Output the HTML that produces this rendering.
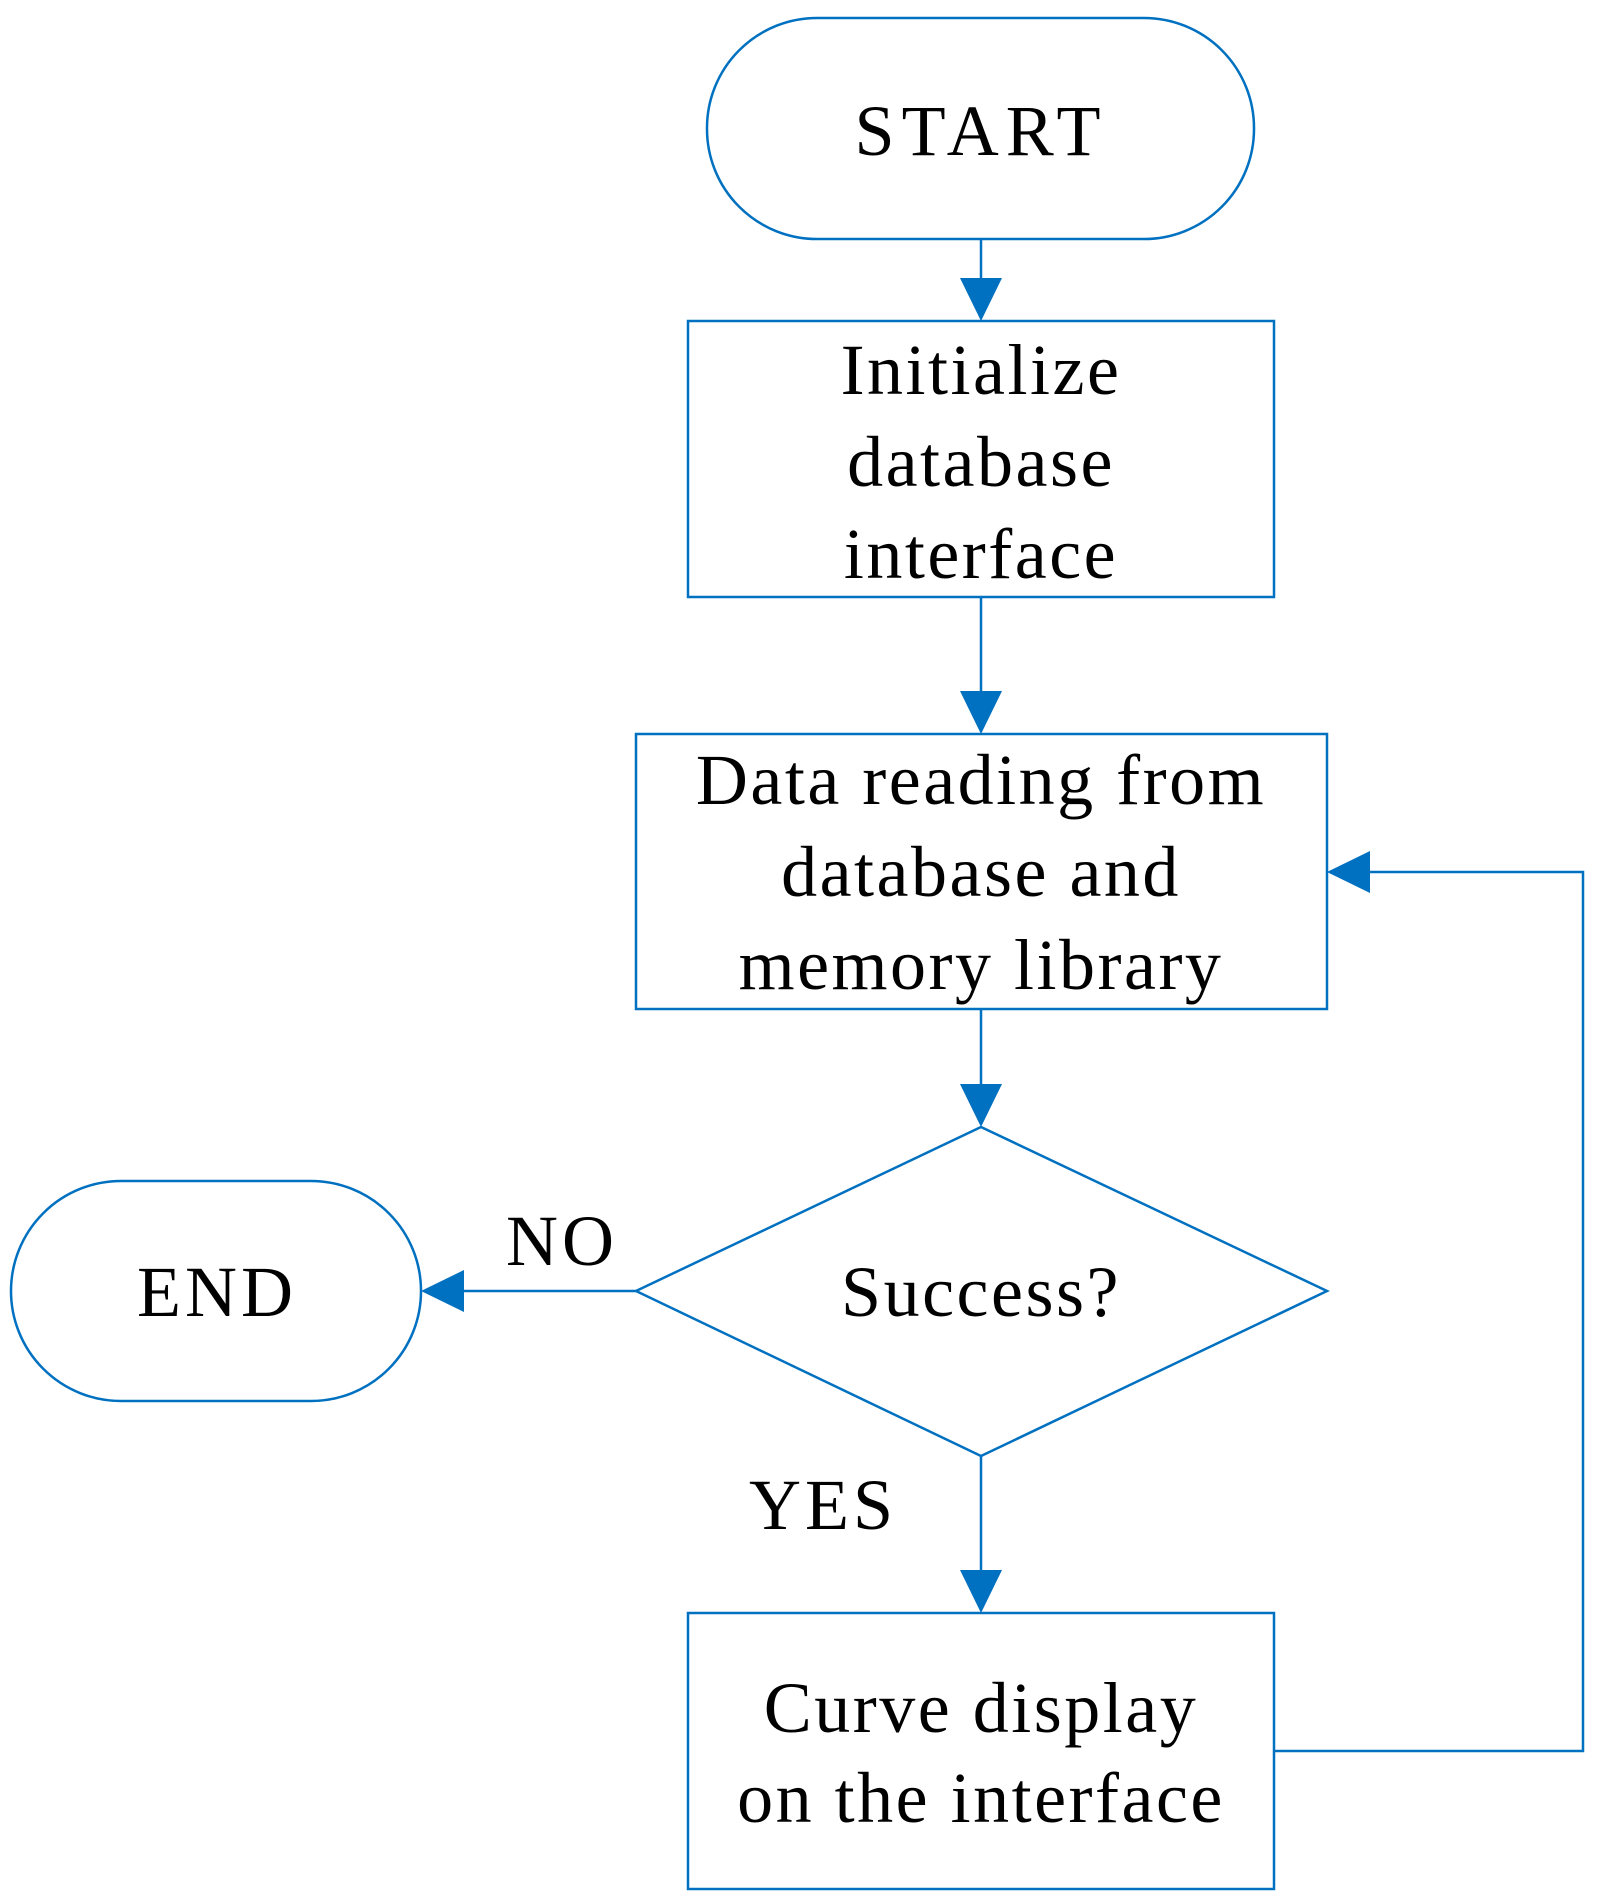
<!DOCTYPE html>
<html><head><meta charset="utf-8"><style>html,body{margin:0;padding:0;background:#fff}</style></head>
<body>
<svg width="1600" height="1894" viewBox="0 0 1600 1894" xmlns="http://www.w3.org/2000/svg">
<g transform="translate(5,0)">
<g fill="none" stroke="#0070C0" stroke-width="2.5">
<rect x="702" y="18" width="547" height="221" rx="110" ry="110"/>
<rect x="683" y="321" width="586" height="276"/>
<rect x="631" y="734" width="691" height="275"/>
<polygon points="631,1291 976,1127 1322,1291 976,1456"/>
<rect x="6" y="1181" width="410" height="220" rx="110" ry="110"/>
<rect x="683" y="1613" width="586" height="276"/>
<line x1="976" y1="239" x2="976" y2="290"/>
<line x1="976" y1="597" x2="976" y2="700"/>
<line x1="976" y1="1009" x2="976" y2="1095"/>
<line x1="976" y1="1456" x2="976" y2="1580"/>
<line x1="631" y1="1291" x2="455" y2="1291"/>
<polyline points="1269,1751 1578,1751 1578,872 1355,872"/>
</g>
<g fill="#0070C0">
<polygon points="955,278 997,278 976,321"/>
<polygon points="955,691 997,691 976,734"/>
<polygon points="955,1084 997,1084 976,1127"/>
<polygon points="955,1570 997,1570 976,1613"/>
<polygon points="459,1270 459,1312 416,1291"/>
<polygon points="1365,851 1365,893 1322,872"/>
</g>
<g font-family="Liberation Serif, serif" font-size="72" text-anchor="middle" fill="#000" letter-spacing="2.5">
<text x="976" y="155" letter-spacing="7">START</text>
<text x="976" y="394">Initialize</text>
<text x="976" y="486">database</text>
<text x="976" y="578">interface</text>
<text x="976" y="804">Data reading from</text>
<text x="976" y="896">database and</text>
<text x="976" y="989">memory library</text>
<text x="976" y="1316">Success?</text>
<text x="212" y="1316" letter-spacing="4">END</text>
<text x="557" y="1265" letter-spacing="4">NO</text>
<text x="818" y="1529" letter-spacing="4">YES</text>
<text x="976" y="1732">Curve display</text>
<text x="976" y="1822">on the interface</text>
</g>
</g>
</svg>
</body></html>
